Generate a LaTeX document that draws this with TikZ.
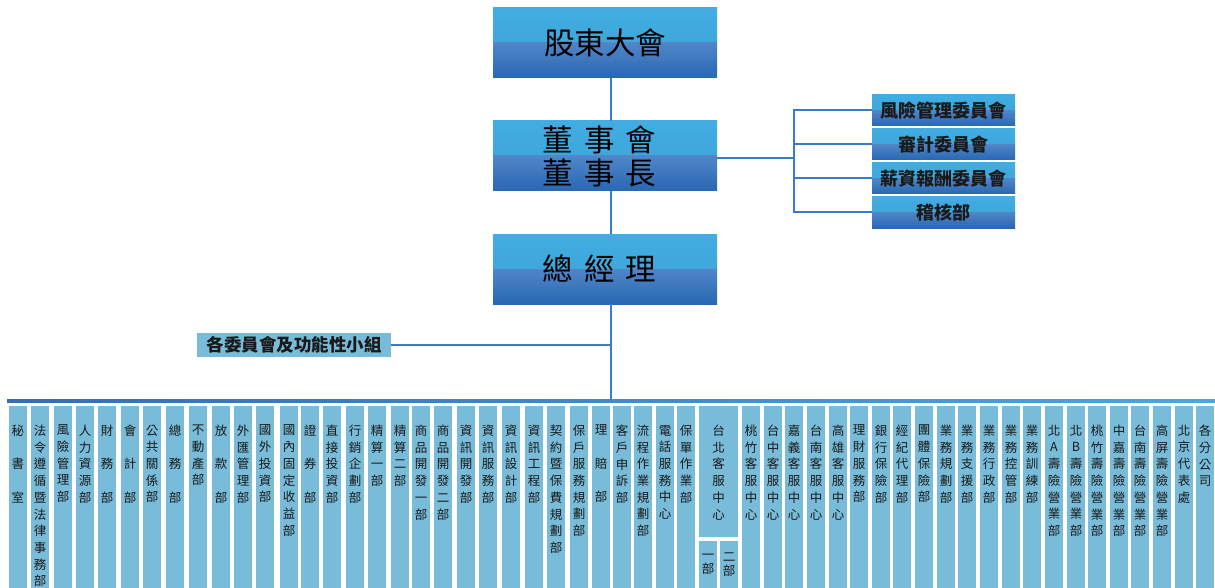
\documentclass[tikz,border=0pt]{standalone}
\usepackage{fontspec}
\setmainfont{Noto Sans CJK TC}
\usetikzlibrary{calc}
\definecolor{colfill}{RGB}{120,188,217}
\definecolor{hiA}{RGB}{66,173,227}
\definecolor{hiB}{RGB}{58,160,210}
\definecolor{loA}{RGB}{80,134,200}
\definecolor{loB}{RGB}{40,103,178}
\definecolor{lineblue}{RGB}{58,125,198}
\definecolor{barL}{RGB}{56,108,180}
\definecolor{barR}{RGB}{76,166,222}
\definecolor{txt}{RGB}{26,26,26}
\newcommand{\vlab}[1]{\parbox[t][182pt][t]{18pt}{\centering\fontsize{12.5pt}{16.7pt}\selectfont\vspace*{19pt}#1}}
\newcommand{\vlabw}[1]{\parbox[t][131pt][t]{39pt}{\centering\fontsize{12.5pt}{16.7pt}\selectfont\vspace*{19pt}#1}}
\tikzset{
  gradbox/.style={inner sep=0pt, outer sep=0pt, anchor=north west,
    path picture={
      \shade[top color=hiA,bottom color=hiB] (path picture bounding box.north west) rectangle (path picture bounding box.east);
      \shade[top color=loA,bottom color=loB] (path picture bounding box.west) rectangle (path picture bounding box.south east);
    }},
  topbox/.style={gradbox, minimum width=224pt, minimum height=70pt, text=black,
    font=\fontsize{30.5pt}{33pt}\selectfont, align=center},
  combox/.style={gradbox, minimum width=143pt, minimum height=31pt, text=txt,
    font=\bfseries\fontsize{18pt}{20pt}\selectfont},
  colbox/.style={fill=colfill, inner sep=0pt, outer sep=0pt, anchor=north west,
    minimum width=18pt, minimum height=182pt, text=txt},
  conn/.style={draw=lineblue, line width=2pt},
}
\begin{document}
\begin{tikzpicture}[x=1pt,y=-1pt]
\useasboundingbox (0,0) rectangle (1215,588);
\fill[white] (0,0) rectangle (1215,588);

% top hierarchy
\node[topbox] (share) at (493,8) {股東大會};
\node[topbox] (board) at (493,121) {{\spaceskip=11pt 董 事 會}\kern11pt\\{\spaceskip=11pt 董 事 長}\kern11pt};
\node[topbox] (gm) at (493,234) {{\spaceskip=11pt 總 經 理}\kern11pt};

% committees
\node[combox] (k1) at (872,95) {風險管理委員會};
\node[combox] (k2) at (872,129) {審計委員會};
\node[combox] (k3) at (872,163) {薪資報酬委員會};
\node[combox] (k4) at (872,197) {稽核部};

\node[fill=colfill, inner sep=0pt, outer sep=0pt, minimum width=194pt, minimum height=24pt,
  anchor=north west, text=txt, font=\bfseries\fontsize{17.5pt}{18pt}\selectfont] (grp) at (197,333) {各委員會及功能性小組};

% bus bar
\node[inner sep=0pt, outer sep=0pt, minimum width=1208pt, minimum height=3pt,
  left color=barL, right color=barR, anchor=north west] (bus) at (7,399) {};

% connectors
\coordinate (sp) at (611,0);
\coordinate (br) at (794,158);
\draw[conn] (share.south -| sp) -- (board.north -| sp);
\draw[conn] (board.south -| sp) -- (gm.north -| sp);
\draw[conn] (gm.south -| sp) -- (bus.north -| sp);
\draw[conn] (grp.east) -- (grp.east -| sp);
\draw[conn] (board.east |- br) -- (br);
\draw[conn] (k1.west) -| (br |- k4.west) -- (k4.west);
\draw[conn] (br |- k2.west) -- (k2.west);
\draw[conn] (br |- k3.west) -- (k3.west);

% departments
\node[colbox] (c1) at (9,406) {\vlab{秘\\[16.7pt]書\\[16.7pt]室}};
\node[colbox] (c2) at (31,406) {\vlab{法\\令\\遵\\循\\暨\\法\\律\\事\\務\\部}};
\node[colbox] (c3) at (54,406) {\vlab{風\\險\\管\\理\\部}};
\node[colbox] (c4) at (76,406) {\vlab{人\\力\\資\\源\\部}};
\node[colbox] (c5) at (98,406) {\vlab{財\\[16.7pt]務\\[16.7pt]部}};
\node[colbox] (c6) at (121,406) {\vlab{會\\[16.7pt]計\\[16.7pt]部}};
\node[colbox] (c7) at (143,406) {\vlab{公\\共\\關\\係\\部}};
\node[colbox] (c8) at (166,406) {\vlab{總\\[16.7pt]務\\[16.7pt]部}};
\node[colbox] (c9) at (189,406) {\vlab{不\\動\\產\\部}};
\node[colbox] (c10) at (212,406) {\vlab{放\\[16.7pt]款\\[16.7pt]部}};
\node[colbox] (c11) at (234,406) {\vlab{外\\匯\\管\\理\\部}};
\node[colbox] (c12) at (256,406) {\vlab{國\\外\\投\\資\\部}};
\node[colbox] (c13) at (280,406) {\vlab{國\\內\\固\\定\\收\\益\\部}};
\node[colbox] (c14) at (301,406) {\vlab{證\\[16.7pt]券\\[16.7pt]部}};
\node[colbox] (c15) at (323,406) {\vlab{直\\接\\投\\資\\部}};
\node[colbox] (c16) at (346,406) {\vlab{行\\銷\\企\\劃\\部}};
\node[colbox] (c17) at (368,406) {\vlab{精\\算\\一\\部}};
\node[colbox] (c18) at (391,406) {\vlab{精\\算\\二\\部}};
\node[colbox] (c19) at (412,406) {\vlab{商\\品\\開\\發\\一\\部}};
\node[colbox] (c20) at (434,406) {\vlab{商\\品\\開\\發\\二\\部}};
\node[colbox] (c21) at (457,406) {\vlab{資\\訊\\開\\發\\部}};
\node[colbox] (c22) at (479,406) {\vlab{資\\訊\\服\\務\\部}};
\node[colbox] (c23) at (502,406) {\vlab{資\\訊\\設\\計\\部}};
\node[colbox] (c24) at (525,406) {\vlab{資\\訊\\工\\程\\部}};
\node[colbox] (c25) at (547,406) {\vlab{契\\約\\暨\\保\\費\\規\\劃\\部}};
\node[colbox] (c26) at (570,406) {\vlab{保\\戶\\服\\務\\規\\劃\\部}};
\node[colbox] (c27) at (592,406) {\vlab{理\\[16.7pt]賠\\[16.7pt]部}};
\node[colbox] (c28) at (613,406) {\vlab{客\\戶\\申\\訴\\部}};
\node[colbox] (c29) at (634,406) {\vlab{流\\程\\作\\業\\規\\劃\\部}};
\node[colbox] (c30) at (656,406) {\vlab{電\\話\\服\\務\\中\\心}};
\node[colbox] (c31) at (677,406) {\vlab{保\\單\\作\\業\\部}};
\node[colbox, minimum width=39pt, minimum height=131pt] (c32) at (699,406) {\vlabw{台\\北\\客\\服\\中\\心}};
\node[colbox, minimum height=47pt, align=center, font=\fontsize{12.5pt}{14pt}\selectfont] (c32a) at (699,541) {一\\部};
\node[colbox, minimum height=47pt, align=center, font=\fontsize{12.5pt}{14pt}\selectfont] (c32b) at (720,541) {二\\部};
\node[colbox] (c33) at (742,406) {\vlab{桃\\竹\\客\\服\\中\\心}};
\node[colbox] (c34) at (764,406) {\vlab{台\\中\\客\\服\\中\\心}};
\node[colbox] (c35) at (785,406) {\vlab{嘉\\義\\客\\服\\中\\心}};
\node[colbox] (c36) at (807,406) {\vlab{台\\南\\客\\服\\中\\心}};
\node[colbox] (c37) at (829,406) {\vlab{高\\雄\\客\\服\\中\\心}};
\node[colbox] (c38) at (850,406) {\vlab{理\\財\\服\\務\\部}};
\node[colbox] (c39) at (872,406) {\vlab{銀\\行\\保\\險\\部}};
\node[colbox] (c40) at (893,406) {\vlab{經\\紀\\代\\理\\部}};
\node[colbox] (c41) at (915,406) {\vlab{團\\體\\保\\險\\部}};
\node[colbox] (c42) at (937,406) {\vlab{業\\務\\規\\劃\\部}};
\node[colbox] (c43) at (958,406) {\vlab{業\\務\\支\\援\\部}};
\node[colbox] (c44) at (980,406) {\vlab{業\\務\\行\\政\\部}};
\node[colbox] (c45) at (1002,406) {\vlab{業\\務\\控\\管\\部}};
\node[colbox] (c46) at (1023,406) {\vlab{業\\務\\訓\\練\\部}};
\node[colbox] (c47) at (1045,406) {\vlab{北\\A\\壽\\險\\營\\業\\部}};
\node[colbox] (c48) at (1067,406) {\vlab{北\\B\\壽\\險\\營\\業\\部}};
\node[colbox] (c49) at (1088,406) {\vlab{桃\\竹\\壽\\險\\營\\業\\部}};
\node[colbox] (c50) at (1110,406) {\vlab{中\\嘉\\壽\\險\\營\\業\\部}};
\node[colbox] (c51) at (1131,406) {\vlab{台\\南\\壽\\險\\營\\業\\部}};
\node[colbox] (c52) at (1153,406) {\vlab{高\\屏\\壽\\險\\營\\業\\部}};
\node[colbox] (c53) at (1175,406) {\vlab{北\\京\\代\\表\\處}};
\node[colbox] (c54) at (1196,406) {\vlab{各\\分\\公\\司}};
\end{tikzpicture}
\end{document}
